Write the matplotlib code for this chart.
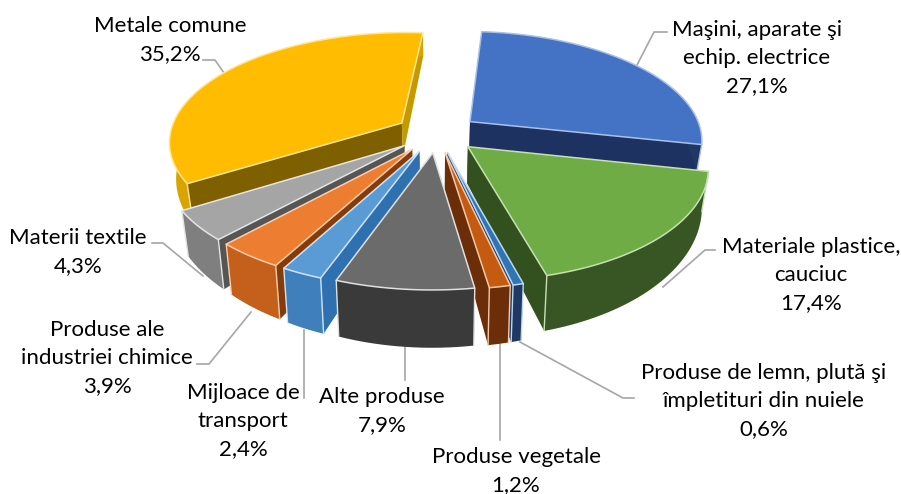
import numpy as np
import matplotlib
matplotlib.use('Agg')
import matplotlib.pyplot as plt
from matplotlib.patches import Polygon

# ---------- data ----------
categories = ['Maşini, aparate şi\nechip. electrice', 'Materiale plastice,\ncauciuc',
              'Produse de lemn, plută şi\nîmpletituri din nuiele', 'Produse vegetale',
              'Alte produse', 'Mijloace de\ntransport', 'Produse ale\nindustriei chimice',
              'Materii textile', 'Metale comune']
values = [27.1, 17.4, 0.6, 1.2, 7.9, 2.4, 3.9, 4.3, 35.2]
value_labels = ['27,1%', '17,4%', '0,6%', '1,2%', '7,9%', '2,4%', '3,9%', '4,3%', '35,2%']

top_colors = ['#4472C4', '#6FAC46', '#2E75B6', '#C55A11', '#6B6B6B', '#5B9BD5', '#ED7D31', '#A5A5A5', '#FFBC00']
rim_colors = ['#203864', '#375623', '#1F3864', '#6B2E08', '#3A3A3A', '#3F7FBC', '#C55F1C', '#7F7F7F', '#D9A300']
sta_colors = ['#203864', '#33501F', '#1F3864', '#6B2E08', '#4A4A4A', '#2E70B0', '#843C0C', '#555555', '#7F6000']
end_colors = ['#1D3260', '#33501F', '#1F3864', '#6B2E08', '#3A3A3A', '#2E70B0', '#843C0C', '#555555', '#C49A00']
edge_colors = ['#A9C0E8', '#C5E0B4', '#BDD7EE', '#F4C9A8', '#E0E0E0', '#CFE4F7', '#FBCDAA', '#E4E4E4', '#FFE699']

label_pos = [(757, 58), (811, 275), (764, 401), (516, 471), (382, 411), (243, 421), (107, 358), (78, 252), (170, 40)]
leaders = [[(667, 32), (654, 32), (637, 65)],
           [(715, 250), (705, 250), (663, 287)],
           [(634, 398), (623, 398), (520, 342)],
           [(500, 440), (500, 344)],
           [(405, 380), (405, 347)],
           [(304, 398), (304, 330)],
           [(197, 364), (209, 364), (251, 312)],
           [(152, 243), (163, 243), (203, 276)],
           [(203, 60), (215, 60), (224, 73)]]

# ---------- projection parameters ----------
CX, CY = 437, 133
A, B = 232, 108
P = 0.16
EXPL = 0.18
H = 35
START = 4.7

def project(X, Y, depth=0.0):
    s = 1.0 / (1.0 - P * Y)
    x = CX + A * X * s
    y = CY + B * Y * s
    if depth:
        x = CX + (x - CX) * 0.975
        y = y + H * s ** 2.4
    return x, y

fig = plt.figure(figsize=(9.01, 4.94), dpi=100)
ax = fig.add_axes([0, 0, 1, 1])
ax.set_xlim(0, 901)
ax.set_ylim(494, 0)
ax.axis('off')

plt.rcParams['font.family'] = ['Lato', 'DejaVu Sans']

bounds = START + np.concatenate([[0], np.cumsum(values)]) * 3.6
wedges = []
for i in range(len(values)):
    t0, t1 = np.radians(bounds[i]), np.radians(bounds[i + 1])
    mid = (t0 + t1) / 2
    ox, oy = EXPL * np.sin(mid), -EXPL * np.cos(mid)
    th = np.linspace(t0, t1, max(int((t1 - t0) * 40), 3))
    ax_arc = ox + np.sin(th)
    ay_arc = oy - np.cos(th)
    wedges.append((oy, i, ox, oy, ax_arc, ay_arc))

for oy, i, ox, oy_, xa, ya in sorted(wedges, key=lambda w: w[0]):
    tx, ty = project(ox, oy_)
    bx, by = project(ox, oy_, 1)
    arc_t = np.column_stack(project(xa, ya))
    arc_b = np.column_stack(project(xa, ya, 1))
    zb = 2 + 0.01 * (oy + 1)
    tip_t, tip_b = np.array([tx, ty]), np.array([bx, by])
    # radial faces
    ax.add_patch(Polygon([tip_t, arc_t[0], arc_b[0], tip_b], closed=True, fc=sta_colors[i], ec='none', zorder=zb))
    ax.add_patch(Polygon([tip_t, arc_t[-1], arc_b[-1], tip_b], closed=True, fc=end_colors[i], ec='none', zorder=zb + 0.001))
    # outer wall
    ax.add_patch(Polygon(np.vstack([arc_t, arc_b[::-1]]), closed=True, fc=rim_colors[i], ec='none', zorder=zb + 0.002))
    # top
    ax.add_patch(Polygon(np.vstack([tip_t, arc_t]), closed=True, fc=top_colors[i], ec=edge_colors[i], lw=1.1,
                         joinstyle='round', zorder=zb + 0.003))
    # corner highlights where the wall is facing the viewer
    for k in (0, -1):
        if ya[k] > -0.2:
            ax.plot([arc_t[k, 0], arc_b[k, 0]], [arc_t[k, 1], arc_b[k, 1]], color=edge_colors[i], lw=1.0,
                    zorder=zb + 0.004, solid_capstyle='round')

for pts in leaders:
    xs, ys = zip(*pts)
    ax.plot(xs, ys, color='#A6A6A6', lw=1.2, zorder=1)

for (x, y), c, v in zip(label_pos, categories, value_labels):
    ax.text(x, y, c + '\n' + v, ha='center', va='center', fontsize=16, color='black',
            linespacing=1.5, zorder=6)

fig.savefig('out.png', dpi=100, facecolor='white')
